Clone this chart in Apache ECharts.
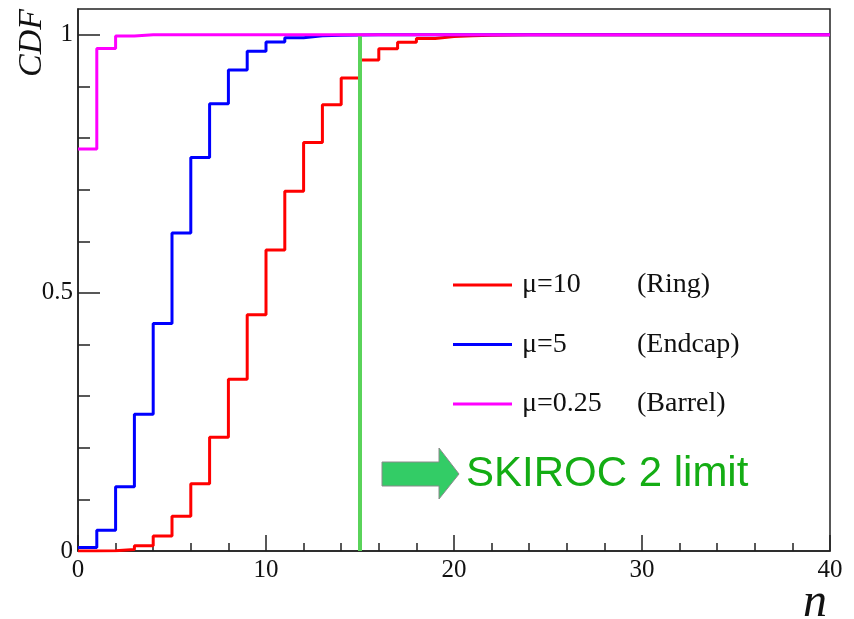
<!DOCTYPE html>
<html>
<head>
<meta charset="utf-8">
<script src="https://cdn.jsdelivr.net/npm/echarts@6/dist/echarts.min.js"></script>
<style>
  html, body { margin: 0; padding: 0; background: #fff; }
  #chartMain { width: 854px; height: 619px; }
</style>
</head>
<body>
<div id="chartMain"></div>
<script>
// CDF per bin n = 0..39 (bin width 1)
const ringCdf = [0.0000, 0.0005, 0.0028, 0.0103, 0.0293, 0.0671, 0.1301, 0.2202, 0.3328, 0.4579,
                 0.5830, 0.6968, 0.7916, 0.8645, 0.9165, 0.9513, 0.9730, 0.9857, 0.9928, 0.9965,
                 0.9984, 0.9993, 0.9997, 0.9999, 1, 1, 1, 1, 1, 1,
                 1, 1, 1, 1, 1, 1, 1, 1, 1, 1];
const endcapCdf = [0.0067, 0.0404, 0.1247, 0.2650, 0.4405, 0.6160, 0.7622, 0.8666, 0.9319, 0.9682,
                   0.9863, 0.9945, 0.9980, 0.9993, 0.9998, 1, 1, 1, 1, 1,
                   1, 1, 1, 1, 1, 1, 1, 1, 1, 1,
                   1, 1, 1, 1, 1, 1, 1, 1, 1, 1];
const barrelCdf = [0.7788, 0.9735, 0.9978, 0.9999, 1, 1, 1, 1, 1, 1,
                   1, 1, 1, 1, 1, 1, 1, 1, 1, 1,
                   1, 1, 1, 1, 1, 1, 1, 1, 1, 1,
                   1, 1, 1, 1, 1, 1, 1, 1, 1, 1];
const muLabels = ['μ=10', 'μ=5', 'μ=0.25'];
const regionLabels = ['(Ring)', '(Endcap)', '(Barrel)'];
const seriesColors = ['#ff0000', '#0000ff', '#ff00ff'];
const limitN = 15;
const yMajorTicks = [0, 0.5, 1];
const yMinorTicks = [0.1, 0.2, 0.3, 0.4, 0.6, 0.7, 0.8, 0.9];

// histogram -> step points (lower edges + last upper edge)
function toSteps(vals) {
    let pts = vals.map((v, i) => [i, v]);
    pts.push([vals.length, vals[vals.length - 1]]);
    return pts;
}

const names = muLabels.map((m, i) => m + ' ' + regionLabels[i]);
const serif = '"Liberation Serif", "DejaVu Serif", serif';

let myChart = echarts.init(document.getElementById('chartMain'));

function histSeries(i, vals) {
    return {
        name: names[i],
        type: 'line',
        step: 'end',
        data: toSteps(vals),
        symbol: 'none',
        silent: true,
        color: seriesColors[i],
        lineStyle: { width: 3, color: seriesColors[i] }
    };
}

myChart.setOption({
    animation: false,
    grid: {
        left: 78, right: 24, top: 9, bottom: 68,
        show: true, borderColor: '#222', borderWidth: 1.5
    },
    xAxis: {
        type: 'value', min: 0, max: 40, interval: 10,
        axisLine: { lineStyle: { color: '#222', width: 1.5 } },
        axisTick: { inside: true, length: 16, lineStyle: { color: '#222', width: 1.5 } },
        minorTick: { show: true, splitNumber: 5, length: 8, lineStyle: { color: '#222', width: 1.5 } },
        axisLabel: { fontFamily: serif, fontSize: 25, color: '#111', margin: 7 },
        splitLine: { show: false }
    },
    yAxis: [{
        type: 'value', min: 0, max: 1.05, position: 'left',
        axisLine: { show: true, lineStyle: { color: '#222', width: 1.5 } },
        axisTick: { inside: true, length: 22, customValues: yMajorTicks, lineStyle: { color: '#222', width: 1.5 } },
        axisLabel: { customValues: yMajorTicks, fontFamily: serif, fontSize: 25, color: '#111', margin: 5 },
        splitLine: { show: false }
    }, {
        type: 'value', min: 0, max: 1.05, position: 'left',
        axisLine: { show: false },
        axisTick: { inside: true, length: 12, customValues: yMinorTicks, lineStyle: { color: '#222', width: 1.5 } },
        axisLabel: { show: false },
        splitLine: { show: false }
    }],
    legend: {
        data: names,
        orient: 'vertical',
        left: 453, top: 271,
        padding: 0,
        itemGap: 31.5,
        icon: 'rect', itemWidth: 59, itemHeight: 3,
        selectedMode: false,
        formatter: (name) => {
            let i = names.indexOf(name);
            return '{a|' + muLabels[i] + '}{b|' + regionLabels[i] + '}';
        },
        textStyle: {
            rich: {
                a: { fontFamily: serif, fontSize: 28, color: '#111', width: 115, padding: [0, 0, 0, 5], lineHeight: 26 },
                b: { fontFamily: serif, fontSize: 28, color: '#111', lineHeight: 26 }
            }
        }
    },
    graphic: [
        { type: 'text', x: 32, y: 43, rotation: Math.PI / 2,
          style: { text: 'CDF', fontFamily: serif, fontStyle: 'italic', fontSize: 34, fill: '#111',
                   align: 'center', verticalAlign: 'middle' } },
        { type: 'text', x: 815, y: 603,
          style: { text: 'n', fontFamily: serif, fontStyle: 'italic', fontSize: 48, fill: '#111',
                   align: 'center', verticalAlign: 'middle' } },
        { type: 'polygon',
          shape: { points: [[382, 462], [439, 462], [439, 448], [459, 474], [439, 499], [439, 486], [382, 486]] },
          style: { fill: '#33cc66', stroke: '#8a8a8a', lineWidth: 1 } },
        { type: 'text', x: 466, y: 474,
          style: { text: 'SKIROC 2 limit', fontFamily: '"Liberation Sans", Arial, sans-serif', fontSize: 42,
                   fill: '#14ad14', align: 'left', verticalAlign: 'middle' } }
    ],
    series: [
        histSeries(0, ringCdf),
        histSeries(1, endcapCdf),
        {
            name: 'limit', type: 'line', symbol: 'none', silent: true,
            data: [[limitN, 0], [limitN, 1]],
            lineStyle: { width: 4, color: '#5ad35a' }
        },
        histSeries(2, barrelCdf)
    ]
});
</script>
</body>
</html>
